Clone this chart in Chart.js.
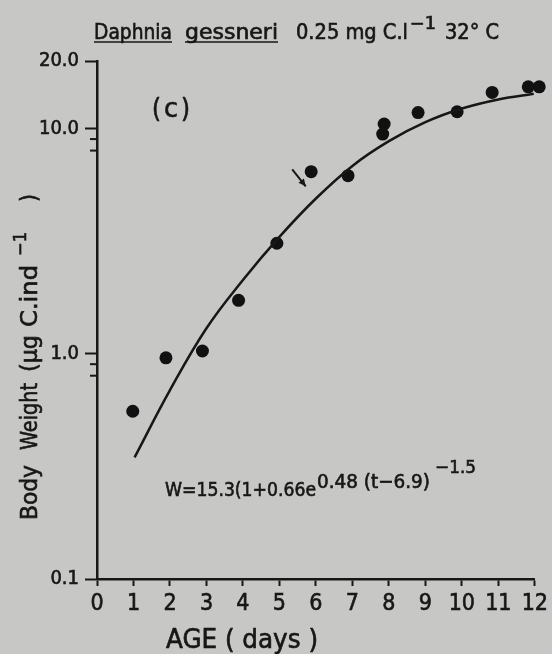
<!DOCTYPE html>
<html><head><meta charset="utf-8">
<script src="https://cdn.jsdelivr.net/npm/chart.js@4/dist/chart.umd.min.js"></script>
<style>
html,body{margin:0;padding:0;background:#c7c7c5;}
#wrap{width:552px;height:654px;position:relative;}
canvas{display:block;}
</style></head><body><div id="wrap"><canvas id="c" width="552" height="654"></canvas></div>
<script>
// Observed data (age in days, body weight µg C/ind)
const ageDays    = [0.98, 1.89, 2.89, 3.88, 4.93, 5.87, 6.88, 7.87, 7.83, 8.80, 9.87, 10.83, 11.82, 12.12];
const bodyWeight = [0.556, 0.96, 1.03, 1.73, 3.10, 6.45, 6.19, 10.5, 9.47, 11.8, 11.9, 14.5, 15.35, 15.35];
// Fitted curve
const curveAge    = [1.03, 2, 3, 4, 5, 6, 7, 8, 9, 10, 11, 11.97];
const curveWeight = [0.347, 0.69, 1.30, 2.13, 3.31, 4.90, 6.84, 8.81, 10.7, 12.3, 13.5, 14.3];
// Ticks
const xTickValues = [0,1,2,3,4,5,6,7,8,9,10,11,12];
const xTickLabels = ['0','1','2','3','4','5','6','7','8','9','10','11','12'];
const yTickValues = [0.1, 1, 10, 20];
const yTickLabels = ['0.1','1.0','10.0','20.0'];
const yMinorTicks = [0.8, 0.9, 8, 9];
// Arrow annotation (from -> to, data units)
const arrowFrom = [5.35, 6.6];
const arrowTo   = [5.72, 5.55];

const FONT = '"DejaVu Sans Condensed", "Liberation Sans Narrow", "DejaVu Sans", sans-serif';
const INK = '#171717';

const textPlugin = {
  id: 'textPlugin',
  afterDraw(chart) {
    const ctx = chart.ctx;
    const xs = chart.scales.x, ys = chart.scales.y;
    ctx.save();
    ctx.fillStyle = INK; ctx.strokeStyle = INK;
    ctx.textBaseline = 'alphabetic'; ctx.textAlign = 'left';
    const f = (s) => s + 'px ' + FONT;
    // draw text fitted horizontally to a width, slightly emboldened like the scan
    const fit = (t, x, y, w, size) => {
      ctx.font = f(size);
      const m = ctx.measureText(t).width;
      ctx.save(); ctx.translate(x, y); ctx.scale(w / m, 1);
      ctx.lineWidth = 0.6;
      ctx.fillText(t, 0, 0); ctx.strokeText(t, 0, 0); ctx.restore();
    };

    // minor ticks
    ctx.lineWidth = 2;
    const left = chart.chartArea.left;
    yMinorTicks.forEach(v => {
      const y = ys.getPixelForValue(v);
      ctx.beginPath(); ctx.moveTo(left - 7, y); ctx.lineTo(left, y); ctx.stroke();
    });

    // Title
    const tb = 39;
    fit('Daphnia', 94, tb, 78, 21);
    fit('gessneri', 185, tb, 93, 21);
    ctx.lineWidth = 1.6;
    ctx.beginPath(); ctx.moveTo(94, tb + 3); ctx.lineTo(172, tb + 3); ctx.stroke();
    ctx.beginPath(); ctx.moveTo(185, tb + 3); ctx.lineTo(278, tb + 3); ctx.stroke();
    fit('0.25 mg C.l', 296, tb, 112, 21);
    fit('\u22121', 410, tb - 10, 26, 17);
    fit('32\u00B0 C', 445, tb, 54, 21);

    // (c)
    fit('(', 152, 117, 9, 27);
    fit('c', 164, 117, 14, 27);
    fit(')', 181, 117, 9, 27);

    // X title
    fit('AGE ( days )', 166, 648, 152, 26);

    // Y title rotated
    ctx.save();
    ctx.translate(37, 0);
    ctx.rotate(-Math.PI / 2);
    fit('Body', -520, 0, 55, 23);
    fit('Weight', -450, 0, 67, 23);
    fit('(\u00B5g', -372, 0, 37, 23);
    fit('C.ind', -327, 0, 62, 23);
    fit('\u22121', -256, -11, 24, 18);
    fit(')', -202, 0, 8, 23);
    ctx.restore();

    // Equation
    fit('W=15.3(1+0.66e', 165, 496, 151, 20);
    fit('0.48 (t\u22126.9)', 317, 488, 113, 20);
    fit('\u22121.5', 435, 473, 41, 18);

    // Arrow
    const ax0 = xs.getPixelForValue(arrowFrom[0]), ay0 = ys.getPixelForValue(arrowFrom[1]);
    const ax1 = xs.getPixelForValue(arrowTo[0]), ay1 = ys.getPixelForValue(arrowTo[1]);
    ctx.lineWidth = 2;
    ctx.beginPath(); ctx.moveTo(ax0, ay0); ctx.lineTo(ax1, ay1); ctx.stroke();
    const ang = Math.atan2(ay1 - ay0, ax1 - ax0);
    const hl = 8;
    ctx.beginPath();
    ctx.moveTo(ax1, ay1);
    ctx.lineTo(ax1 - hl * Math.cos(ang - 0.45), ay1 - hl * Math.sin(ang - 0.45));
    ctx.lineTo(ax1 - hl * Math.cos(ang + 0.45), ay1 - hl * Math.sin(ang + 0.45));
    ctx.closePath(); ctx.fill();
    ctx.restore();
  }
};

new Chart(document.getElementById('c').getContext('2d'), {
  type: 'scatter',
  data: {
    datasets: [
      {
        label: 'fit',
        data: curveAge.map((x, i) => ({ x, y: curveWeight[i] })),
        showLine: true, borderColor: INK, borderWidth: 2.5, tension: 0.4,
        pointRadius: 0, fill: false, clip: false
      },
      {
        label: 'observed',
        data: ageDays.map((x, i) => ({ x, y: bodyWeight[i] })),
        showLine: false, pointRadius: 6.5, pointBackgroundColor: '#111',
        pointBorderColor: '#111', pointBorderWidth: 0, clip: false
      }
    ]
  },
  options: {
    responsive: false, animation: false, devicePixelRatio: 1,
    layout: { padding: { left: 0, right: 11, top: 61, bottom: 0 } },
    plugins: { legend: { display: false }, tooltip: { enabled: false }, title: { display: false } },
    scales: {
      x: {
        type: 'linear', min: 0, max: 12,
        afterBuildTicks: s => { s.ticks = xTickValues.map(v => ({ value: v })); },
        afterFit: s => { s.height = 75; },
        ticks: {
          autoSkip: false, maxRotation: 0, color: INK, padding: 4,
          textStrokeColor: INK, textStrokeWidth: 0.6,
          font: { family: FONT, size: 23 },
          callback: (v, i) => xTickLabels[i]
        },
        grid: { drawOnChartArea: false, drawTicks: true, tickLength: 7, tickWidth: 2, tickColor: INK },
        border: { display: true, color: INK, width: 2.5 }
      },
      y: {
        type: 'logarithmic', min: 0.1, max: 20,
        afterBuildTicks: s => { s.ticks = yTickValues.map(v => ({ value: v })); },
        afterFit: s => { s.width = 97; },
        ticks: {
          autoSkip: false, color: INK, padding: 6,
          textStrokeColor: INK, textStrokeWidth: 0.6,
          font: { family: FONT, size: 20 },
          callback: (v, i) => yTickLabels[i]
        },
        grid: { drawOnChartArea: false, drawTicks: true, tickLength: 12, tickWidth: 2, tickColor: INK },
        border: { display: true, color: INK, width: 2.5 }
      }
    }
  },
  plugins: [textPlugin]
});
</script></body></html>
